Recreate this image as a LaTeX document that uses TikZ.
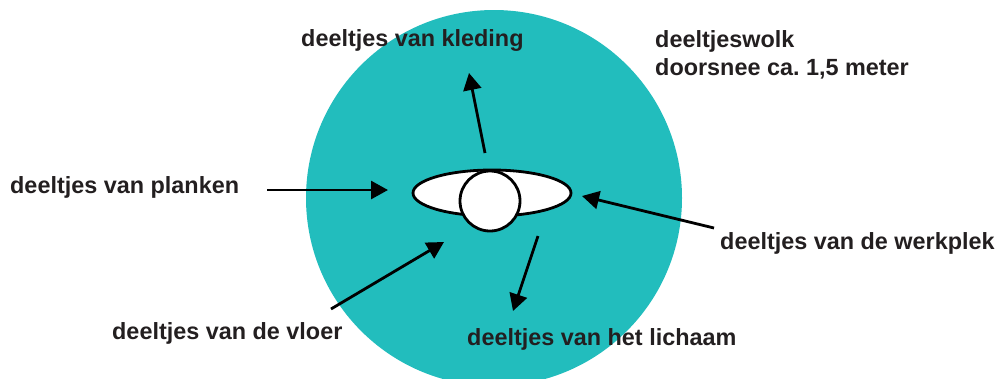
\documentclass[tikz,border=0pt]{standalone}
\definecolor{cloudteal}{RGB}{34,189,189}
\definecolor{labelgray}{RGB}{35,31,32}
\usepackage{fontspec}
\setmainfont{Liberation Sans}
\usepackage{tikz}
\usetikzlibrary{arrows.meta,positioning,shapes.geometric}

\tikzset{
  lbl/.style={anchor=west, inner sep=0pt, text=labelgray,
              font=\fontsize{23.4}{28}\selectfont\bfseries},
  flow/.style={line width=2.8pt, -{Triangle[length=17pt,width=18pt]}},
  body/.style={draw, line width=2.8pt, fill=white}
}

\begin{document}
\begin{tikzpicture}[x=1pt, y=-1pt]
    \useasboundingbox (0,0) rectangle (1001,378);
    % particle cloud and the worker seen from above
    \node[circle, fill=cloudteal, minimum size=376pt, inner sep=0pt] (cloud) at (494,198) {};
    \node[body, ellipse, minimum width=158pt, minimum height=46pt, inner sep=0pt] (shoulders) at (492,193) {};
    \node[body, circle, minimum size=60pt, inner sep=0pt] (head) at (490,201) {};

    \node[lbl] (kleding) at (301,40) {deeltjes van kleding};
    \node[lbl, anchor=north west, align=left] (wolk) at (655,30) {deeltjeswolk\\doorsnee ca.\ 1,5 meter};
    \node[lbl] (planken) at (10,187) {deeltjes van planken};
    \node[lbl] (werkplek) at (720,243) {deeltjes van de werkplek};
    \node[lbl] (vloer) at (112,333) {deeltjes van de vloer};
    \node[lbl] (lichaam) at (467,339) {deeltjes van het lichaam};

    \coordinate (kleding-from) at (485,153);
    \coordinate (kleding-to) at (469,73);
    \coordinate (planken-from) at (267,190);
    \coordinate (planken-to) at (388,190);
    \coordinate (werkplek-from) at (714,228);
    \coordinate (werkplek-to) at (582,196);
    \coordinate (vloer-from) at (331,309);
    \coordinate (vloer-to) at (444,242);
    \coordinate (lichaam-from) at (538,236);
    \coordinate (lichaam-to) at (513,311);

    \draw[flow] (kleding-from) -- (kleding-to);
    \draw[flow] (planken-from) -- (planken-to);
    \draw[flow] (werkplek-from) -- (werkplek-to);
    \draw[flow] (vloer-from) -- (vloer-to);
    \draw[flow] (lichaam-from) -- (lichaam-to);
  \end{tikzpicture}
\end{document}
